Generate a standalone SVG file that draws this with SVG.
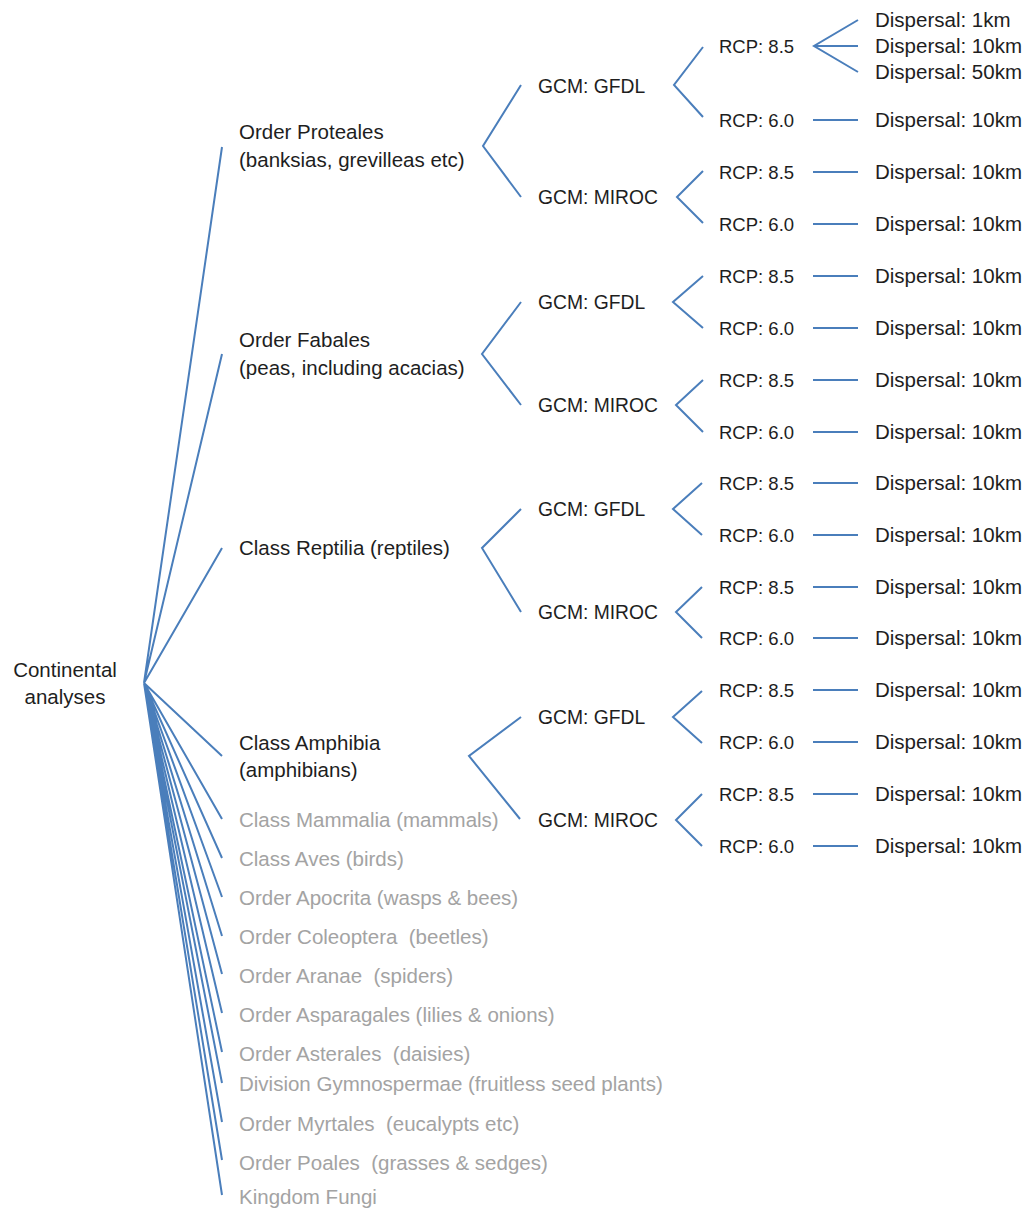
<svg xmlns="http://www.w3.org/2000/svg" width="1027" height="1208" viewBox="0 0 1027 1208">
  <style>
    text { font-family: "Liberation Sans", Arial, sans-serif; font-size: 20.5px; fill: #1e1e1e; white-space: pre; }
    text.dim { fill: #a3a3a3; }
    text.gcm { font-size: 19.3px; }
    text.rcp { font-size: 18.5px; }
    .edge { fill: none; stroke: #4a7ebb; stroke-width: 2; stroke-linejoin: miter; }
  </style>
  <rect width="1027" height="1208" fill="#ffffff"/>

  <g id="connectors">
    <!-- root fan -->
    <path class="edge" d="M144 683 L222 147 M144 683 L222 354 M144 683 L222 548 M144 683 L222 756
      M144 683 L222 819 M144 683 L222 858 M144 683 L222 897 M144 683 L222 936 M144 683 L222 974
      M144 683 L222 1013 M144 683 L222 1052 M144 683 L222 1083 M144 683 L222 1122 M144 683 L222 1160 M144 683 L222 1195"/>
    <!-- taxon to GCM forks -->
    <path class="edge" d="M521 85 L483 146 L521 197"/>
    <path class="edge" d="M521 302 L482 354 L521 405"/>
    <path class="edge" d="M521 509 L482 548 L521 612"/>
    <path class="edge" d="M521 717 L469 756 L520 819"/>
    <!-- GCM to RCP forks -->
    <path class="edge" d="M703 47 L674 85 L703 117"/>
    <path class="edge" d="M703 171 L677 197 L703 223"/>
    <path class="edge" d="M703 276 L673 302 L703 328"/>
    <path class="edge" d="M703 380 L676 405 L703 432"/>
    <path class="edge" d="M702 483 L673 509 L702 535"/>
    <path class="edge" d="M702 587 L676 612 L702 638"/>
    <path class="edge" d="M702 691 L673 717 L702 743"/>
    <path class="edge" d="M702 794 L676 820 L702 846"/>
    <!-- RCP to dispersal -->
    <path class="edge" d="M858 20 L814 46 L858 72 M814 46 L858 46"/>
    <path class="edge" d="M813 120 H858 M813 172 H858 M813 224 H858 M813 276 H858 M813 328 H858
      M813 380 H858 M813 432 H858 M813 483 H858 M813 535 H858 M813 587 H858 M813 638 H858
      M813 690 H858 M813 742 H858 M813 794 H858 M813 846 H858"/>
  </g>

  <g id="root">
    <text x="65" y="677" text-anchor="middle">Continental</text>
    <text x="65" y="704" text-anchor="middle">analyses</text>
  </g>

  <g id="taxa">
    <g id="proteales"><text x="239" y="139">Order Proteales</text><text x="239" y="167">(banksias, grevilleas etc)</text></g>
    <g id="fabales"><text x="239" y="347">Order Fabales</text><text x="239" y="375">(peas, including acacias)</text></g>
    <g id="reptilia"><text x="239" y="555">Class Reptilia (reptiles)</text></g>
    <g id="amphibia"><text x="239" y="750">Class Amphibia</text><text x="239" y="777">(amphibians)</text></g>
    <g id="mammalia"><text class="dim" x="239" y="827">Class Mammalia (mammals)</text></g>
    <g id="aves"><text class="dim" x="239" y="866">Class Aves (birds)</text></g>
    <g id="apocrita"><text class="dim" x="239" y="905">Order Apocrita (wasps &amp; bees)</text></g>
    <g id="coleoptera"><text class="dim" x="239" y="944">Order Coleoptera  (beetles)</text></g>
    <g id="aranae"><text class="dim" x="239" y="983">Order Aranae  (spiders)</text></g>
    <g id="asparagales"><text class="dim" x="239" y="1022">Order Asparagales (lilies &amp; onions)</text></g>
    <g id="asterales"><text class="dim" x="239" y="1061">Order Asterales  (daisies)</text></g>
    <g id="gymnospermae"><text class="dim" x="239" y="1091">Division Gymnospermae (fruitless seed plants)</text></g>
    <g id="myrtales"><text class="dim" x="239" y="1131">Order Myrtales  (eucalypts etc)</text></g>
    <g id="poales"><text class="dim" x="239" y="1170">Order Poales  (grasses &amp; sedges)</text></g>
    <g id="fungi"><text class="dim" x="239" y="1204">Kingdom Fungi</text></g>
  </g>

  <g id="gcm">
    <g id="gcm-1"><text class="gcm" x="538" y="93">GCM: GFDL</text></g>
    <g id="gcm-2"><text class="gcm" x="538" y="204">GCM: MIROC</text></g>
    <g id="gcm-3"><text class="gcm" x="538" y="309">GCM: GFDL</text></g>
    <g id="gcm-4"><text class="gcm" x="538" y="412">GCM: MIROC</text></g>
    <g id="gcm-5"><text class="gcm" x="538" y="516">GCM: GFDL</text></g>
    <g id="gcm-6"><text class="gcm" x="538" y="619">GCM: MIROC</text></g>
    <g id="gcm-7"><text class="gcm" x="538" y="724">GCM: GFDL</text></g>
    <g id="gcm-8"><text class="gcm" x="538" y="827">GCM: MIROC</text></g>
  </g>

  <g id="rcp">
    <g id="rcp-1"><text class="rcp" x="719" y="53">RCP: 8.5</text></g>
    <g id="rcp-2"><text class="rcp" x="719" y="127">RCP: 6.0</text></g>
    <g id="rcp-3"><text class="rcp" x="719" y="179">RCP: 8.5</text></g>
    <g id="rcp-4"><text class="rcp" x="719" y="231">RCP: 6.0</text></g>
    <g id="rcp-5"><text class="rcp" x="719" y="283">RCP: 8.5</text></g>
    <g id="rcp-6"><text class="rcp" x="719" y="335">RCP: 6.0</text></g>
    <g id="rcp-7"><text class="rcp" x="719" y="387">RCP: 8.5</text></g>
    <g id="rcp-8"><text class="rcp" x="719" y="439">RCP: 6.0</text></g>
    <g id="rcp-9"><text class="rcp" x="719" y="490">RCP: 8.5</text></g>
    <g id="rcp-10"><text class="rcp" x="719" y="542">RCP: 6.0</text></g>
    <g id="rcp-11"><text class="rcp" x="719" y="594">RCP: 8.5</text></g>
    <g id="rcp-12"><text class="rcp" x="719" y="645">RCP: 6.0</text></g>
    <g id="rcp-13"><text class="rcp" x="719" y="697">RCP: 8.5</text></g>
    <g id="rcp-14"><text class="rcp" x="719" y="749">RCP: 6.0</text></g>
    <g id="rcp-15"><text class="rcp" x="719" y="801">RCP: 8.5</text></g>
    <g id="rcp-16"><text class="rcp" x="719" y="853">RCP: 6.0</text></g>
  </g>

  <g id="dispersal">
    <g id="disp-1"><text x="875" y="27">Dispersal: 1km</text></g>
    <g id="disp-2"><text x="875" y="53">Dispersal: 10km</text></g>
    <g id="disp-3"><text x="875" y="79">Dispersal: 50km</text></g>
    <g id="disp-4"><text x="875" y="127">Dispersal: 10km</text></g>
    <g id="disp-5"><text x="875" y="179">Dispersal: 10km</text></g>
    <g id="disp-6"><text x="875" y="231">Dispersal: 10km</text></g>
    <g id="disp-7"><text x="875" y="283">Dispersal: 10km</text></g>
    <g id="disp-8"><text x="875" y="335">Dispersal: 10km</text></g>
    <g id="disp-9"><text x="875" y="387">Dispersal: 10km</text></g>
    <g id="disp-10"><text x="875" y="439">Dispersal: 10km</text></g>
    <g id="disp-11"><text x="875" y="490">Dispersal: 10km</text></g>
    <g id="disp-12"><text x="875" y="542">Dispersal: 10km</text></g>
    <g id="disp-13"><text x="875" y="594">Dispersal: 10km</text></g>
    <g id="disp-14"><text x="875" y="645">Dispersal: 10km</text></g>
    <g id="disp-15"><text x="875" y="697">Dispersal: 10km</text></g>
    <g id="disp-16"><text x="875" y="749">Dispersal: 10km</text></g>
    <g id="disp-17"><text x="875" y="801">Dispersal: 10km</text></g>
    <g id="disp-18"><text x="875" y="853">Dispersal: 10km</text></g>
  </g>
</svg>
